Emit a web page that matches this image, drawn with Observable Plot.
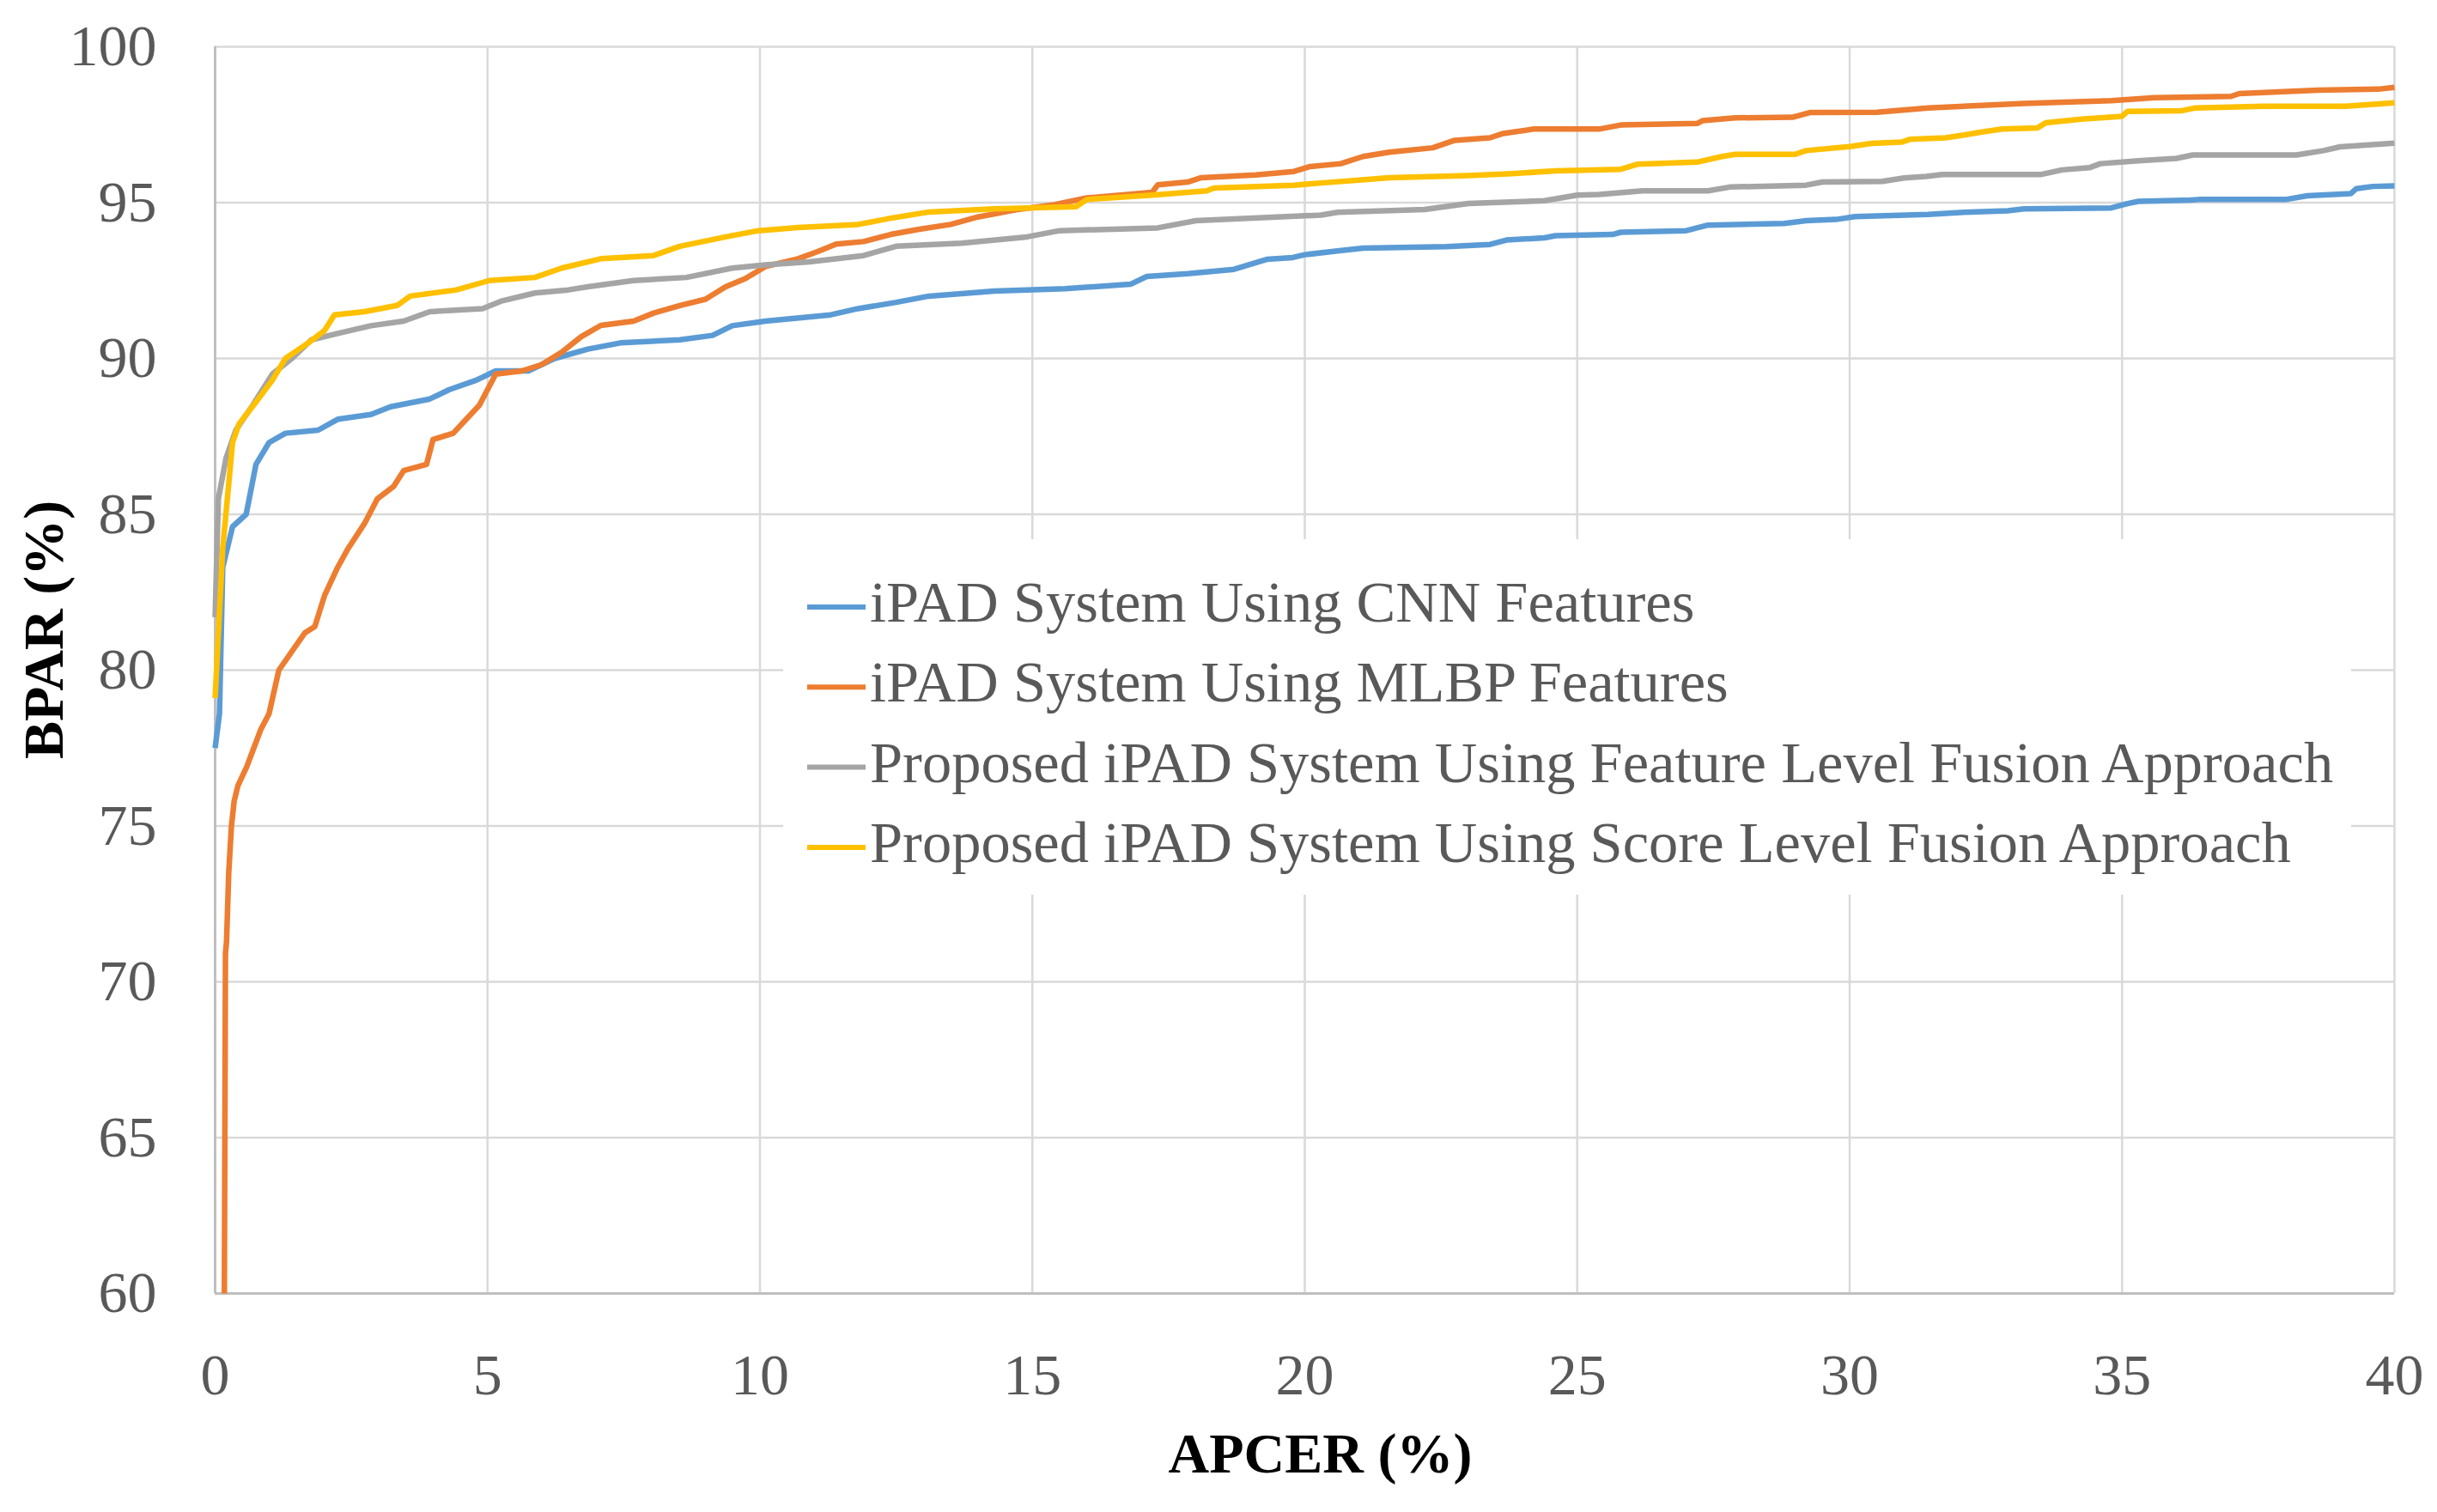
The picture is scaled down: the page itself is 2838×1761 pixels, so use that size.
<!DOCTYPE html>
<html>
<head>
<meta charset="utf-8">
<script src="https://cdn.jsdelivr.net/npm/d3@7"></script>
<script src="https://cdn.jsdelivr.net/npm/@observablehq/plot@0.6"></script>
<style>
  body { margin: 0; background: #fff; }
  #wrap { position: relative; width: 2838px; height: 1761px; background: #fff; }
  #wrap svg { display: block; }
</style>
</head>
<body>
<div id="wrap"></div>
<script>
// ---------- data ----------
const seriesNames = [
  "iPAD System Using CNN Features",
  "iPAD System Using MLBP Features",
  "Proposed iPAD System Using Feature Level Fusion Approach",
  "Proposed iPAD System Using Score Level Fusion Approach"
];
const seriesColors = ["#5b9bd5", "#ed7d31", "#a5a5a5", "#ffc000"];

const xTicks = [0, 5, 10, 15, 20, 25, 30, 35, 40];
const yTicks = [60, 65, 70, 75, 80, 85, 90, 95, 100];

const cnnX = [0, 0.08, 0.14, 0.32, 0.57, 0.75, 0.99, 1.29, 1.89, 2.25, 2.86, 3.22, 3.94, 4.3, 4.79, 5.15, 5.75, 6.23, 6.84, 7.44, 8.53, 9.13, 9.49, 10.1, 11.3, 11.8, 12.5, 13.1, 14.3, 15.6, 16.8, 17.1, 17.85, 18.7, 19.3, 19.78, 20.0, 20.6, 21.07, 22.6, 23.4, 23.7, 24.4, 24.6, 25.65, 25.8, 27.0, 27.4, 28.8, 29.2, 29.75, 30.1, 31.44, 32.1, 32.9, 33.2, 34.8, 35.1, 35.3, 36.26, 36.4, 38.0, 38.4, 39.2, 39.3, 39.6, 40];
const cnnY = [77.5, 78.6, 83.3, 84.6, 85.0, 86.6, 87.3, 87.6, 87.7, 88.05, 88.2, 88.45, 88.7, 89.0, 89.3, 89.6, 89.6, 90.0, 90.3, 90.5, 90.6, 90.74, 91.05, 91.2, 91.4, 91.6, 91.8, 92.0, 92.16, 92.24, 92.38, 92.63, 92.72, 92.86, 93.18, 93.24, 93.33, 93.45, 93.54, 93.59, 93.66, 93.8, 93.87, 93.94, 93.98, 94.05, 94.1, 94.28, 94.33, 94.42, 94.46, 94.55, 94.62, 94.69, 94.74, 94.8, 94.83, 94.97, 95.04, 95.08, 95.1, 95.1, 95.22, 95.29, 95.45, 95.52, 95.54];

const mlbpX = [0.17, 0.19, 0.21, 0.25, 0.3, 0.35, 0.42, 0.58, 0.71, 0.84, 0.99, 1.17, 1.41, 1.65, 1.83, 2.01, 2.25, 2.44, 2.74, 2.98, 3.28, 3.46, 3.88, 4.0, 4.37, 4.61, 4.85, 5.15, 5.63, 5.99, 6.36, 6.72, 7.08, 7.68, 8.04, 8.53, 9.0, 9.37, 9.73, 10.1, 10.7, 11.06, 11.4, 11.9, 12.4, 12.9, 13.5, 14.0, 14.7, 15.4, 16.0, 17.2, 17.3, 17.85, 18.1, 19.1, 19.8, 20.1, 20.66, 21.07, 21.55, 22.35, 22.75, 23.4, 23.64, 24.2, 25.4, 25.8, 27.2, 27.3, 27.9, 28.95, 29.27, 30.5, 31.44, 33.2, 34.8, 35.6, 37.0, 37.15, 38.6, 39.7, 40];
const mlbpY = [60, 70.9, 71.3, 73.5, 75.0, 75.8, 76.3, 76.9, 77.5, 78.1, 78.6, 80.0, 80.6, 81.2, 81.4, 82.4, 83.3, 83.9, 84.7, 85.5, 85.9, 86.4, 86.6, 87.4, 87.6, 88.05, 88.5, 89.5, 89.6, 89.8, 90.2, 90.7, 91.06, 91.2, 91.45, 91.7, 91.9, 92.3, 92.56, 92.95, 93.2, 93.43, 93.67, 93.75, 93.98, 94.14, 94.3, 94.54, 94.77, 94.93, 95.15, 95.33, 95.57, 95.66, 95.8, 95.89, 96.0, 96.16, 96.25, 96.48, 96.62, 96.76, 97.0, 97.08, 97.22, 97.36, 97.36, 97.49, 97.54, 97.63, 97.72, 97.74, 97.89, 97.9, 98.04, 98.18, 98.27, 98.37, 98.41, 98.5, 98.61, 98.64, 98.7];

const featX = [0, 0.06, 0.2, 0.38, 0.69, 1.05, 1.41, 1.77, 2.25, 2.86, 3.46, 3.94, 4.91, 5.27, 5.87, 6.48, 6.84, 7.68, 8.65, 9.49, 10.1, 10.9, 11.9, 12.5, 13.7, 14.9, 15.5, 17.3, 18.0, 19.4, 20.3, 20.6, 22.2, 23.0, 24.4, 25.0, 25.4, 26.2, 27.4, 27.8, 29.2, 29.5, 30.6, 31.0, 31.4, 31.7, 33.5, 33.9, 34.4, 34.6, 35.3, 36.0, 36.3, 38.2, 38.7, 39.0, 40];
const featY = [81.7, 85.5, 86.8, 87.7, 88.5, 89.5, 90.0, 90.6, 90.8, 91.05, 91.2, 91.5, 91.6, 91.85, 92.1, 92.2, 92.3, 92.5, 92.6, 92.9, 93.0, 93.1, 93.3, 93.6, 93.7, 93.9, 94.1, 94.19, 94.42, 94.53, 94.6, 94.69, 94.78, 94.97, 95.06, 95.24, 95.26, 95.38, 95.38, 95.5, 95.56, 95.66, 95.68, 95.79, 95.84, 95.9, 95.9, 96.05, 96.12, 96.25, 96.34, 96.42, 96.53, 96.53, 96.67, 96.79, 96.91];

const scoreX = [0, 0.14, 0.32, 0.44, 0.75, 1.05, 1.29, 1.71, 2.01, 2.19, 2.74, 3.34, 3.58, 4.43, 5.03, 5.87, 6.36, 7.08, 8.04, 8.53, 9.37, 9.97, 10.7, 11.8, 12.4, 13.1, 14.3, 15.8, 16.0, 17.2, 18.2, 18.33, 19.8, 20.3, 21.2, 21.55, 23.0, 23.8, 24.6, 25.8, 26.1, 27.2, 27.66, 27.9, 29.0, 29.2, 30.0, 30.4, 30.95, 31.1, 31.76, 32.1, 32.4, 32.8, 33.45, 33.6, 34.25, 35.0, 35.1, 36.1, 36.35, 37.6, 39.1, 40];
const scoreY = [79.1, 83.9, 87.3, 87.9, 88.6, 89.3, 90.0, 90.5, 90.9, 91.4, 91.5, 91.7, 92.0, 92.2, 92.5, 92.6, 92.9, 93.2, 93.3, 93.6, 93.9, 94.1, 94.2, 94.3, 94.5, 94.7, 94.8, 94.87, 95.1, 95.24, 95.38, 95.47, 95.56, 95.63, 95.75, 95.8, 95.87, 95.93, 96.02, 96.07, 96.23, 96.3, 96.48, 96.55, 96.55, 96.67, 96.8, 96.9, 96.94, 97.03, 97.08, 97.17, 97.26, 97.36, 97.4, 97.56, 97.68, 97.77, 97.93, 97.95, 98.04, 98.09, 98.09, 98.2];

// ---------- table built from the arrays ----------
const seriesData = [[cnnX, cnnY], [mlbpX, mlbpY], [featX, featY], [scoreX, scoreY]];
const rows = [];
seriesData.forEach(([xs, ys], i) => {
  xs.forEach((x, j) => rows.push({ series: seriesNames[i], x, y: ys[j] }));
});

const FONT = "'Liberation Serif', 'Times New Roman', serif";

const chart = Plot.plot({
  width: 2838,
  height: 1761,
  marginLeft: 250,
  marginRight: 50,
  marginTop: 54,
  marginBottom: 255,
  style: { fontFamily: FONT, fontSize: "67px", color: "#595959", background: "#fff" },
  x: { domain: [xTicks[0], xTicks[xTicks.length - 1]] },
  y: { domain: [yTicks[0], yTicks[yTicks.length - 1]] },
  color: { domain: seriesNames, range: seriesColors },
  marks: [
    Plot.gridX({ ticks: xTicks, stroke: "#d9d9d9", strokeOpacity: 1, strokeWidth: 2.5 }),
    Plot.gridY({ ticks: yTicks, stroke: "#d9d9d9", strokeOpacity: 1, strokeWidth: 2.5 }),
    Plot.ruleX([xTicks[0]], { stroke: "#bfbfbf", strokeWidth: 3 }),
    Plot.ruleY([yTicks[0]], { stroke: "#bfbfbf", strokeWidth: 3 }),
    Plot.axisX({ ticks: xTicks, tickSize: 0, tickPadding: 69, label: null, fontSize: 68, fill: "#595959" }),
    Plot.axisY({ ticks: yTicks, tickSize: 0, tickPadding: 68, label: null, fontSize: 68, fill: "#595959" }),
    Plot.line(rows, { x: "x", y: "y", z: "series", stroke: "series", strokeWidth: 6.5, strokeLinejoin: "round", strokeLinecap: "butt" }),
    Plot.text(["APCER (%)"], { text: d => d, frameAnchor: "bottom", lineAnchor: "middle", textAnchor: "middle", dx: 18, dy: 187, fontSize: 66, fontWeight: "bold", fill: "#000" }),
    Plot.text(["BPAR (%)"], { text: d => d, frameAnchor: "left", lineAnchor: "middle", textAnchor: "middle", rotate: -90, dx: -199, dy: -47, fontSize: 66, fontWeight: "bold", fill: "#000" })
  ]
});

const wrap = document.getElementById("wrap");
wrap.appendChild(chart);

// ---------- legend overlay (inside plot area, white box) ----------
const leg = d3.select(wrap).append("svg")
  .attr("width", 2838).attr("height", 1761)
  .style("position", "absolute").style("left", "0px").style("top", "0px")
  .style("pointer-events", "none");

leg.append("rect")
  .attr("x", 912).attr("y", 628).attr("width", 1826).attr("height", 414)
  .attr("fill", "#fff");

const legRows = leg.selectAll("g.row").data(seriesNames).join("g")
  .attr("class", "row")
  .attr("transform", (d, i) => `translate(0, ${724 + i * 93.3})`);

legRows.append("line")
  .attr("x1", 940).attr("x2", 1008).attr("y1", -17).attr("y2", -17)
  .attr("stroke", (d, i) => seriesColors[i]).attr("stroke-width", 6);

legRows.append("text")
  .attr("x", 1013).attr("y", 0)
  .attr("font-family", FONT).attr("font-size", 68.5)
  .attr("fill", "#595959")
  .text(d => d);
</script>
</body>
</html>
